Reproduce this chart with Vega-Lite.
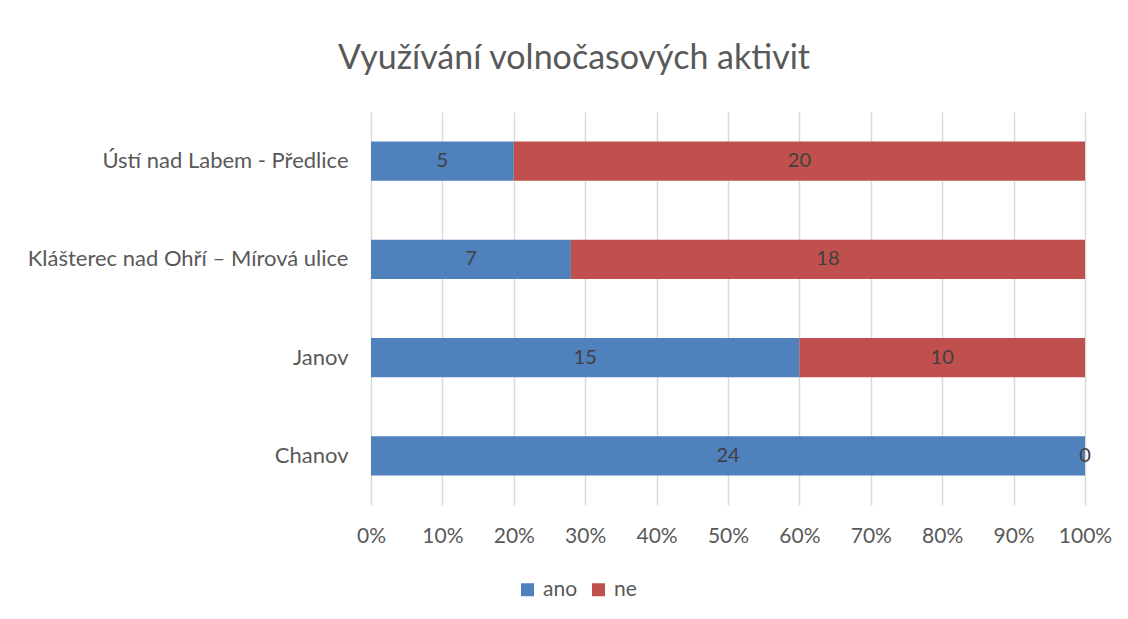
{
  "$schema": "https://vega.github.io/schema/vega-lite/v6.json",
  "width": 714,
  "height": 393,
  "autosize": {"type": "none"},
  "padding": {"left": 371, "top": 112, "right": 43, "bottom": 114},
  "background": "white",
  "title": {
    "text": "Využívání volnočasových aktivit",
    "font": "Lato",
    "fontSize": 34,
    "fontWeight": "normal",
    "color": "#595959",
    "anchor": "middle",
    "dx": -154,
    "offset": 36
  },
  "data": {
    "values": [
      {"lokalita": "Ústí nad Labem - Předlice", "odpoved": "ano", "poradi": 1, "pocet": 5},
      {"lokalita": "Ústí nad Labem - Předlice", "odpoved": "ne", "poradi": 2, "pocet": 20},
      {"lokalita": "Klášterec nad Ohří – Mírová ulice", "odpoved": "ano", "poradi": 1, "pocet": 7},
      {"lokalita": "Klášterec nad Ohří – Mírová ulice", "odpoved": "ne", "poradi": 2, "pocet": 18},
      {"lokalita": "Janov", "odpoved": "ano", "poradi": 1, "pocet": 15},
      {"lokalita": "Janov", "odpoved": "ne", "poradi": 2, "pocet": 10},
      {"lokalita": "Chanov", "odpoved": "ano", "poradi": 1, "pocet": 24},
      {"lokalita": "Chanov", "odpoved": "ne", "poradi": 2, "pocet": 0}
    ]
  },
  "encoding": {
    "y": {
      "field": "lokalita",
      "type": "nominal",
      "sort": ["Ústí nad Labem - Předlice", "Klášterec nad Ohří – Mírová ulice", "Janov", "Chanov"],
      "scale": {"paddingInner": 0.6, "paddingOuter": 0.3},
      "axis": {
        "title": null,
        "labelFont": "Lato",
        "labelFontSize": 22,
        "labelColor": "#595959",
        "labelPadding": 23,
        "labelLimit": 400,
        "ticks": false,
        "domain": false,
        "grid": false
      }
    }
  },
  "layer": [
    {
      "mark": {"type": "bar"},
      "encoding": {
        "x": {
          "field": "pocet",
          "type": "quantitative",
          "stack": "normalize",
          "scale": {"domain": [0, 1]},
          "axis": {
            "title": null,
            "format": ".0%",
            "values": [0, 0.1, 0.2, 0.3, 0.4, 0.5, 0.6, 0.7, 0.8, 0.9, 1],
            "labelFont": "Lato",
            "labelFontSize": 21,
            "labelColor": "#595959",
            "labelPadding": 20,
            "labelFlush": false,
            "ticks": false,
            "domain": false,
            "grid": true,
            "gridColor": "#d9d9d9",
            "gridWidth": 1.5
          }
        },
        "order": {"field": "poradi", "type": "quantitative"},
        "color": {
          "field": "odpoved",
          "type": "nominal",
          "scale": {"domain": ["ano", "ne"], "range": ["#4f81bd", "#c0504d"]},
          "legend": {
            "title": null,
            "orient": "none",
            "direction": "horizontal",
            "legendX": 146,
            "legendY": 467,
            "symbolType": "square",
            "symbolSize": 169,
            "symbolStrokeWidth": 0,
            "labelFont": "Lato",
            "labelFontSize": 21,
            "labelColor": "#595959",
            "columnPadding": 10,
            "labelOffset": 5
          }
        }
      }
    },
    {
      "mark": {"type": "text", "font": "Lato", "fontSize": 20, "color": "#404040", "align": "center", "baseline": "middle"},
      "encoding": {
        "x": {"field": "pocet", "type": "quantitative", "stack": "normalize", "bandPosition": 0.5},
        "order": {"field": "poradi", "type": "quantitative"},
        "detail": {"field": "odpoved"},
        "text": {"field": "pocet", "type": "quantitative"}
      }
    }
  ],
  "config": {"view": {"stroke": null}}
}
